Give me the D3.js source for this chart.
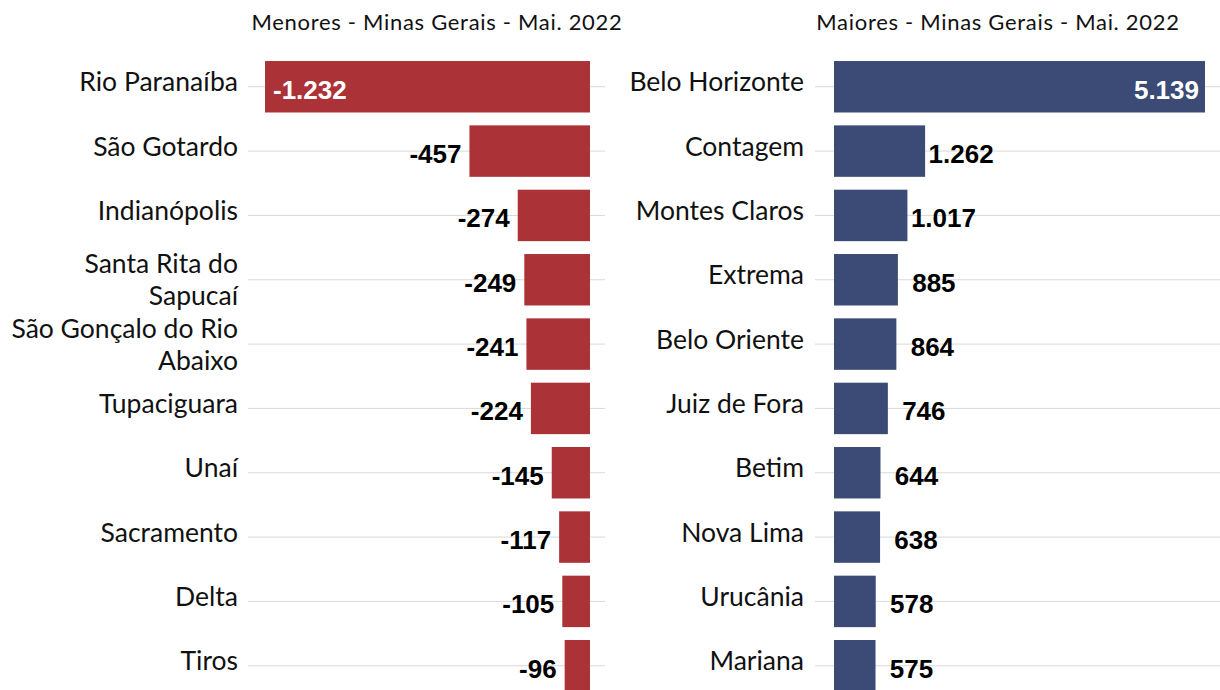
<!DOCTYPE html>
<html>
<head>
<meta charset="utf-8">
<script src="https://cdn.jsdelivr.net/npm/d3@7"></script>
<style>
  body { margin: 0; background: #fff; }
  svg { display: block; }
</style>
</head>
<body>
<svg id="chart"></svg>
<script>
// dados - saldo de empregos por município
const menoresCidades = ["Rio Paranaíba", "São Gotardo", "Indianópolis", "Santa Rita do Sapucaí", "São Gonçalo do Rio Abaixo",
    "Tupaciguara", "Unaí", "Sacramento", "Delta", "Tiros"];
const menoresValores = [-1232, -457, -274, -249, -241, -224, -145, -117, -105, -96];

const maioresCidades = ["Belo Horizonte", "Contagem", "Montes Claros", "Extrema", "Belo Oriente",
    "Juiz de Fora", "Betim", "Nova Lima", "Urucânia", "Mariana"];
const maioresValores = [5139, 1262, 1017, 885, 864, 746, 644, 638, 578, 575];

const titulos = ["Menores - Minas Gerais - Mai. 2022", "Maiores - Minas Gerais - Mai. 2022"];

const W = 1220, H = 690;
const svg = d3.select("#chart").attr("width", W).attr("height", H);

const labelFont = "Lato, 'Open Sans', sans-serif";
const valueFont = "'Liberation Sans', Arial, sans-serif";
const fmt = v => d3.format(",")(v).replace(/,/g, ".").replace("\u2212", "-");

const yScale = d3.scaleBand().domain(d3.range(10)).range([54.6, 697.9]).paddingInner(0.2).paddingOuter(0.1);

function wrapLines(text, maxW) {
    const words = text.split(" ");
    const lines = [];
    let cur = "";
    const tmp = svg.append("text").style("font-family", labelFont).style("font-size", "26.5px");
    words.forEach(w => {
        const test = cur ? cur + " " + w : w;
        tmp.text(test);
        if (tmp.node().getComputedTextLength() > maxW && cur) { lines.push(cur); cur = w; }
        else cur = test;
    });
    lines.push(cur);
    tmp.remove();
    return lines;
}

function painel(cfg) {
    const data = cfg.cidades.map((c, i) => ({ cidade: c, valor: cfg.valores[i], i }));
    const g = svg.append("g");

    // linhas de grade
    g.selectAll(".grid").data(data).enter().append("line")
        .attr("x1", cfg.gridX[0]).attr("x2", cfg.gridX[1])
        .attr("y1", d => yScale(d.i) + yScale.bandwidth() / 2)
        .attr("y2", d => yScale(d.i) + yScale.bandwidth() / 2)
        .attr("stroke", "#d9d9d9").attr("stroke-width", 1);

    g.selectAll(".bar").data(data).enter().append("rect")
        .attr("x", d => Math.min(cfg.x(d.valor), cfg.x(0)))
        .attr("width", d => Math.abs(cfg.x(d.valor) - cfg.x(0)))
        .attr("y", d => yScale(d.i))
        .attr("height", yScale.bandwidth())
        .attr("fill", cfg.cor);

    // nomes dos municipios
    g.selectAll(".cat").data(data).enter().append("text")
        .attr("text-anchor", "end")
        .style("font-family", labelFont).style("font-size", "26.5px").style("fill", "#111")
        .each(function(d) {
            const lines = wrapLines(d.cidade, 234);
            const cy = yScale(d.i) + yScale.bandwidth() / 2;
            const shift = lines.length > 1 ? 5 : 0;
            const t = d3.select(this);
            lines.forEach((ln, k) => {
                t.append("tspan").attr("x", cfg.labelX)
                    .attr("y", cy + 4.5 + shift + (k - (lines.length - 1) / 2) * 32)
                    .text(ln);
            });
        });

    // rotulos de valor
    g.selectAll(".val").data(data).enter().append("text")
        .style("font-family", valueFont).style("font-size", "26px").style("font-weight", "bold")
        .attr("y", d => yScale(d.i) + yScale.bandwidth() / 2 + 12)
        .each(function(d) {
            const t = d3.select(this).text(fmt(d.valor));
            cfg.valPos(t, d);
        });

    svg.append("text")
        .attr("x", cfg.tituloX).attr("y", 29.5)
        .attr("text-anchor", "middle")
        .style("font-family", labelFont).style("font-size", "22px").style("letter-spacing", "0.7px")
        .style("fill", "#111")
        .text(cfg.titulo);
}

const xMen = d3.scaleLinear().domain([d3.min(menoresValores), 0]).range([265, 590]);
const xMai = d3.scaleLinear().domain([0, d3.max(maioresValores)]).range([834, 1205]);

painel({
    cidades: menoresCidades, valores: menoresValores, x: xMen, cor: "#ab3236",
    gridX: [248, 605], labelX: 238, titulo: titulos[0], tituloX: 437,
    valPos: (t, d) => {
        if (d.i === 0) t.attr("x", xMen(d.valor) + 8).attr("fill", "#fff");
        else t.attr("x", xMen(d.valor) - 8).attr("text-anchor", "end").attr("fill", "#000");
    }
});

painel({
    cidades: maioresCidades, valores: maioresValores, x: xMai, cor: "#3b4b76",
    gridX: [815, 1220], labelX: 804, titulo: titulos[1], tituloX: 998,
    valPos: (t, d) => {
        if (d.i === 0) t.attr("x", xMai(d.valor) - 6).attr("text-anchor", "end").attr("fill", "#fff");
        else t.attr("x", xMai(d.valor) + 36).attr("text-anchor", "middle").attr("fill", "#000");
    }
});
</script>
</body>
</html>
